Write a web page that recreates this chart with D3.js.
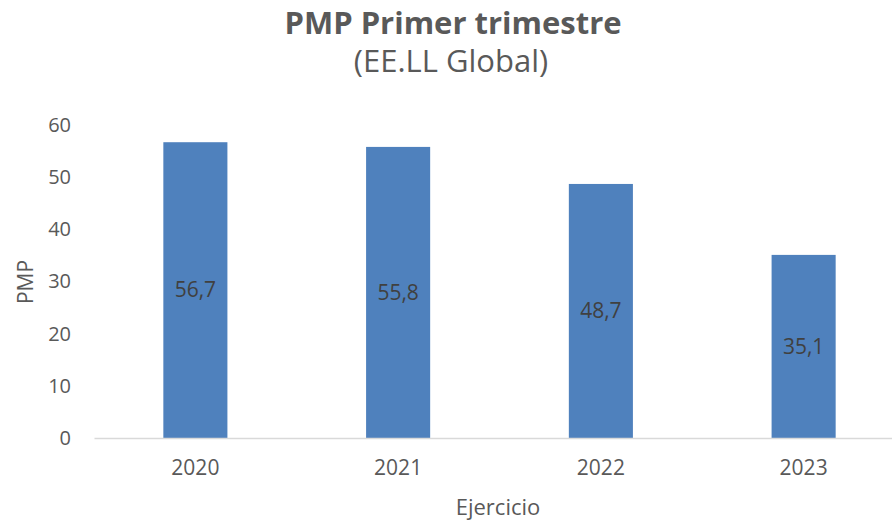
<!DOCTYPE html>
<html><head><meta charset="utf-8">
<script src="https://cdn.jsdelivr.net/npm/d3@7"></script>
<style>body{margin:0;background:#fff;} text{font-family:"Open Sans",sans-serif;}</style>
</head><body><svg id="c" width="892" height="522"></svg>
<script>
const categories = ["2020","2021","2022","2023"];
const values = [56.7, 55.8, 48.7, 35.1];
const valueLabels = ["56,7","55,8","48,7","35,1"];
const yTicks = [0,10,20,30,40,50,60];

const svg = d3.select("#c");
const x = d3.scaleBand().domain(categories).range([94, 905]).paddingInner(0.684).paddingOuter(0.342);
const y = d3.scaleLinear().domain([0,60]).range([438,125]);

svg.append("text").attr("x",453).attr("y",34).attr("text-anchor","middle")
  .attr("font-size",31).attr("font-weight","bold").attr("fill","#595959").text("PMP Primer trimestre");
svg.append("text").attr("x",451).attr("y",72).attr("text-anchor","middle")
  .attr("font-size",31).attr("fill","#595959").text("(EE.LL Global)");

const yAxis = svg.append("g").attr("transform","translate(94,0)")
  .call(d3.axisLeft(y).tickValues(yTicks).tickSize(0).tickPadding(23).tickFormat(d3.format("d")));
yAxis.select(".domain").remove();
yAxis.selectAll("text").attr("font-size",20).attr("fill","#595959").attr("font-family","Open Sans");

svg.selectAll("rect.bar").data(values).join("rect").attr("class","bar")
  .attr("x",(d,i)=>x(categories[i])).attr("width",x.bandwidth())
  .attr("y",d=>y(d)).attr("height",d=>y(0)-y(d)).attr("fill","#4f81bd");

const xAxis = svg.append("g").attr("transform","translate(0,438)")
  .call(d3.axisBottom(x).tickSize(0).tickPadding(22));
xAxis.select(".domain").attr("stroke","#d9d9d9").attr("stroke-width",1.5);
xAxis.selectAll("text").attr("font-size",21).attr("fill","#595959").attr("font-family","Open Sans");

svg.selectAll("text.vl").data(values).join("text").attr("class","vl")
  .attr("x",(d,i)=>x(categories[i])+x.bandwidth()/2)
  .attr("y",d=>(y(d)+y(0))/2).attr("dy","0.35em").attr("text-anchor","middle")
  .attr("font-size",21).attr("fill","#404040").text((d,i)=>valueLabels[i]);

svg.append("text").attr("x",498).attr("y",515).attr("text-anchor","middle")
  .attr("font-size",22).attr("fill","#595959").text("Ejercicio");
svg.append("text").attr("transform","translate(33,282) rotate(-90)").attr("text-anchor","middle")
  .attr("font-size",21).attr("fill","#595959").text("PMP");
</script></body></html>
